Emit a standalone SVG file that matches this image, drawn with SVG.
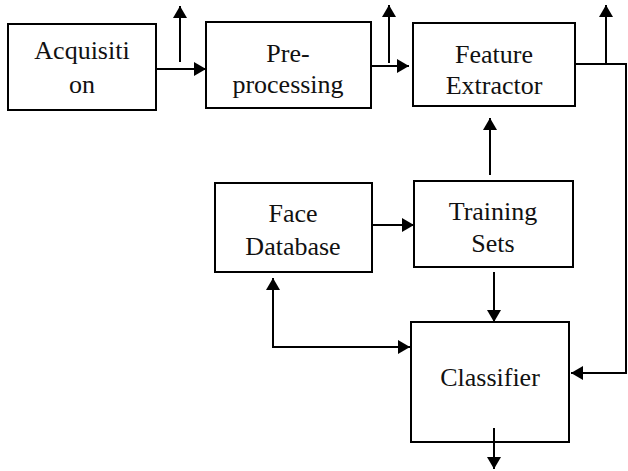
<svg xmlns="http://www.w3.org/2000/svg" width="628" height="471" viewBox="0 0 628 471">
<defs>
<marker id="ah" viewBox="0 0 12 14" refX="12" refY="7" markerWidth="12" markerHeight="14" markerUnits="userSpaceOnUse" orient="auto">
<path d="M0,0 L12,7 L0,14 Z" fill="#000"/>
</marker>
</defs>
<style>
.box{fill:#fff;stroke:#000;stroke-width:2}
.lbl{font-family:'Liberation Serif','Times New Roman',serif;font-size:26px;fill:#111;text-anchor:middle}
.c{fill:none;stroke:#000;stroke-width:2}
.a{marker-end:url(#ah)}
</style>
<rect width="628" height="471" fill="#fff"/>
<g id="connectors">
<line class="c a" x1="180" y1="62" x2="180" y2="6"/>
<line class="c a" x1="156" y1="69" x2="206" y2="69"/>
<line class="c a" x1="389" y1="63" x2="389" y2="5"/>
<line class="c a" x1="371" y1="66" x2="409" y2="66"/>
<line class="c a" x1="606" y1="63" x2="606" y2="5"/>
<polyline class="c a" points="575,64 626,64 626,373 571,373"/>
<line class="c a" x1="490" y1="175" x2="490" y2="118"/>
<line class="c a" x1="372" y1="225" x2="414" y2="225"/>
<line class="c a" x1="494" y1="272" x2="494" y2="322"/>
<polyline class="c a" points="411,347 273,347 273,278"/>
<line class="c a" x1="273" y1="347" x2="410" y2="347"/>
<line class="c a" x1="494" y1="428" x2="494" y2="469"/>
</g>
<g id="acquisition">
<rect class="box" x="8" y="24" width="148" height="86"/>
<text class="lbl" x="82" y="59">Acquisiti</text>
<text class="lbl" x="82" y="93">on</text>
</g>
<g id="preprocessing">
<rect class="box" x="206" y="22" width="165" height="86"/>
<text class="lbl" x="288" y="62">Pre-</text>
<text class="lbl" x="288" y="93">processing</text>
</g>
<g id="feature-extractor">
<rect class="box" x="413" y="23" width="162" height="83"/>
<text class="lbl" x="494" y="63">Feature</text>
<text class="lbl" x="494" y="94">Extractor</text>
</g>
<g id="face-database">
<rect class="box" x="215" y="183" width="157" height="89"/>
<text class="lbl" x="293" y="222">Face</text>
<text class="lbl" x="293" y="255">Database</text>
</g>
<g id="training-sets">
<rect class="box" x="414" y="181" width="159" height="86"/>
<text class="lbl" x="493" y="220">Training</text>
<text class="lbl" x="493" y="252">Sets</text>
</g>
<g id="classifier">
<rect class="box" x="411" y="322" width="158" height="120"/>
<text class="lbl" x="490" y="386">Classifier</text>
</g>
<line class="c" x1="494" y1="428" x2="494" y2="442"/>
</svg>
